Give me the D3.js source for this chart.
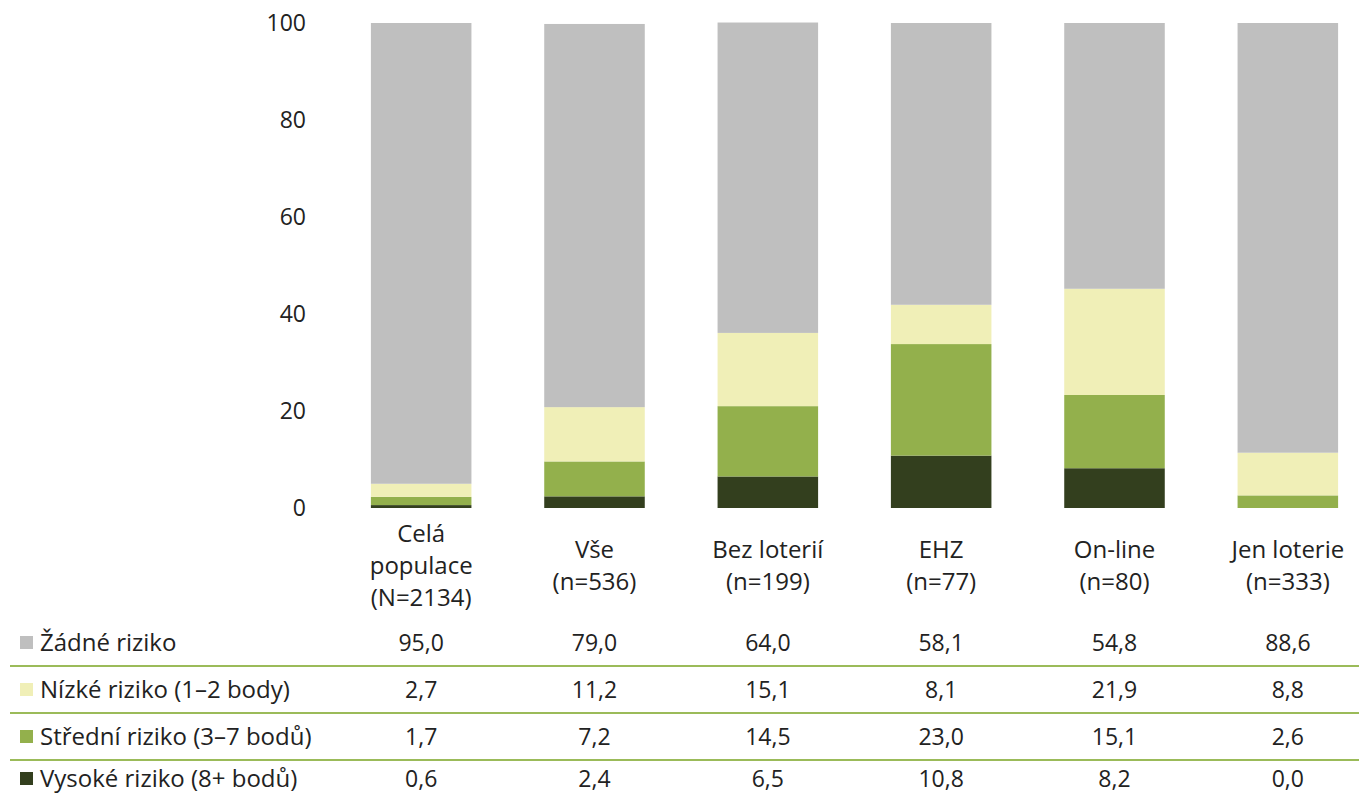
<!DOCTYPE html>
<html lang="cs">
<head>
  <meta charset="UTF-8">
  <title>Riziko hraní podle typu hry</title>
  <style>
    body { margin: 0; background: #fff; font-family: "Open Sans", "Noto Sans", sans-serif; }
    svg text { fill: #222; }
  </style>
</head>
<body>
  <svg id="chart"></svg>
  <script src="https://d3js.org/d3.v7.min.js"></script>
  <script>
    // --- data ---
    const categories = ["Celá populace (N=2134)", "Vše (n=536)", "Bez loterií (n=199)", "EHZ (n=77)", "On-line (n=80)", "Jen loterie (n=333)"];
    const categoryLines = [["Celá", "populace", "(N=2134)"], ["Vše", "(n=536)"], ["Bez loterií", "(n=199)"], ["EHZ", "(n=77)"], ["On-line", "(n=80)"], ["Jen loterie", "(n=333)"]];
    const seriesNames = ["Žádné riziko", "Nízké riziko (1–2 body)", "Střední riziko (3–7 bodů)", "Vysoké riziko (8+ bodů)"];
    const zadne   = [95.0, 79.0, 64.0, 58.1, 54.8, 88.6];
    const nizke   = [2.7, 11.2, 15.1, 8.1, 21.9, 8.8];
    const stredni = [1.7, 7.2, 14.5, 23.0, 15.1, 2.6];
    const vysoke  = [0.6, 2.4, 6.5, 10.8, 8.2, 0.0];
    const yTicks = [0, 20, 40, 60, 80, 100];

    const seriesValues = [zadne, nizke, stredni, vysoke];
    const colors = ["#bfbfbf", "#f0efb7", "#93b04c", "#333f1e"];

    const width = 1359, height = 795;
    const svg = d3.select("#chart").attr("width", width).attr("height", height);

    // stack from bottom: vysoke, stredni, nizke, zadne
    const rows = categories.map((c, i) => ({
      cat: c, s0: zadne[i], s1: nizke[i], s2: stredni[i], s3: vysoke[i]
    }));
    const stack = d3.stack().keys(["s3", "s2", "s1", "s0"]);
    const layers = stack(rows);
    const keyColor = { s0: colors[0], s1: colors[1], s2: colors[2], s3: colors[3] };

    const x = d3.scaleBand().domain(categories).range([334.5, 1374.5]).paddingInner(0.42).paddingOuter(0.21);
    const y = d3.scaleLinear().domain([0, 100]).range([508, 23]);

    // y axis labels (no line)
    svg.append("g").selectAll("text")
      .data(yTicks)
      .join("text")
      .attr("x", 306)
      .attr("y", d => y(d))
      .attr("dy", "0.35em")
      .attr("text-anchor", "end")
      .style("font-size", "23px")
      .text(d => d);

    // bars
    svg.append("g").selectAll("g")
      .data(layers)
      .join("g")
      .attr("fill", d => keyColor[d.key])
      .selectAll("rect")
      .data(d => d)
      .join("rect")
      .attr("x", d => x(d.data.cat))
      .attr("width", x.bandwidth())
      .attr("y", d => y(d[1]))
      .attr("height", d => y(d[0]) - y(d[1]));

    // category labels, block centred under bars
    const lineH = 32;
    categories.forEach((c, i) => {
      const lines = categoryLines[i];
      const cx = x(c) + x.bandwidth() / 2;
      const top = 566 - (lines.length - 1) * lineH / 2;
      svg.append("text")
        .attr("text-anchor", "middle")
        .style("font-size", "24px")
        .selectAll("tspan")
        .data(lines)
        .join("tspan")
        .attr("x", cx)
        .attr("y", (d, j) => top + j * lineH)
        .attr("dy", "0.35em")
        .text(d => d);
    });

    // data table
    const rowY = [643, 690, 737, 779];
    const sepY = [666, 713, 760];
    const table = svg.append("g");

    // separators
    table.selectAll("line")
      .data(sepY)
      .join("line")
      .attr("x1", 10).attr("x2", width)
      .attr("y1", d => d).attr("y2", d => d)
      .attr("stroke", "#9bbb59").attr("stroke-width", 2);

    seriesNames.forEach((name, r) => {
      table.append("rect")
        .attr("x", 20).attr("y", rowY[r] - 7)
        .attr("width", 13).attr("height", 13)
        .attr("fill", colors[r]);
      table.append("text")
        .attr("x", 40).attr("y", rowY[r])
        .attr("dy", "0.35em")
        .style("font-size", "24px")
        .text(name);
      table.append("g").selectAll("text")
        .data(seriesValues[r])
        .join("text")
        .attr("x", (d, i) => x(categories[i]) + x.bandwidth() / 2)
        .attr("y", rowY[r])
        .attr("dy", "0.35em")
        .attr("text-anchor", "middle")
        .style("font-size", "23px")
        .text(d => d.toFixed(1).replace(".", ","));
    });
  </script>
</body>
</html>
